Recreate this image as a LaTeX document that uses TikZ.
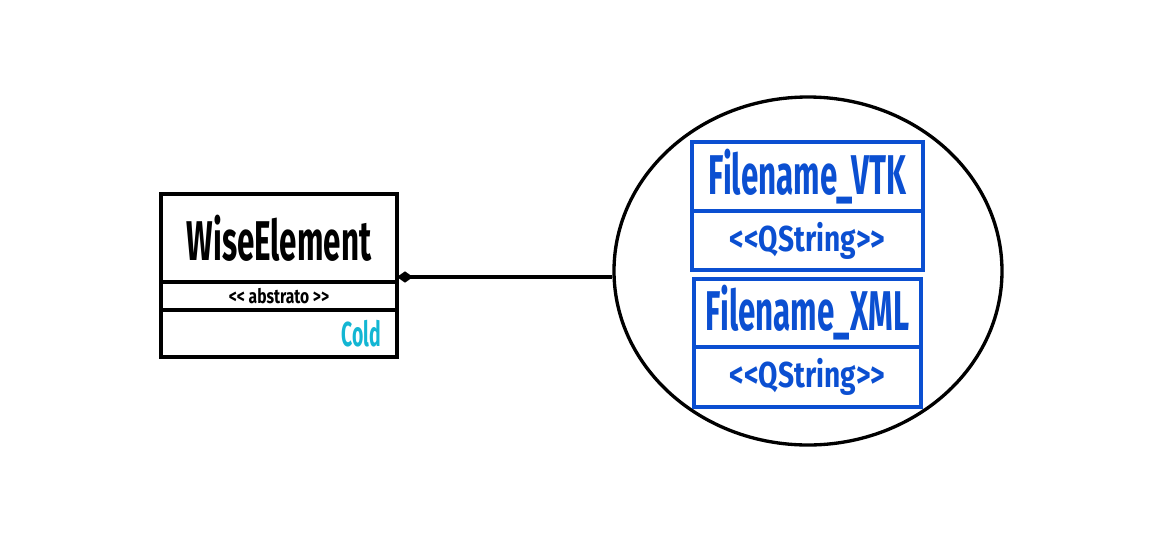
\documentclass[tikz,border=0pt]{standalone}
\usepackage{fontspec}
\usetikzlibrary{arrows.meta, positioning, shapes.geometric}
\newfontfamily\agency{Fira Sans}[FakeStretch=0.56]
\newfontfamily\agencywide{Fira Sans}[FakeStretch=0.78]
\definecolor{UmlBlue}{HTML}{0B4FD1}
\definecolor{UmlCyan}{HTML}{13B6D3}

\tikzset{
    umlpart/.style={draw, line width=2.6pt, rectangle, inner sep=0pt, outer sep=0pt, font=\agency\bfseries},
    bluepart/.style={umlpart, draw=UmlBlue, text=UmlBlue},
}

\begin{document}
\begin{tikzpicture}[x=0.75pt, y=-0.75pt]
\useasboundingbox (0,0) rectangle (1164,540);

% classe abstrata
\node[umlpart, minimum width=177pt, minimum height=66pt, font=\agency\bfseries\fontsize{42}{42}\selectfont]
    (wisename) at (279,238) {WiseElement};
\node[umlpart, minimum width=177pt, minimum height=21pt, anchor=north, font=\agencywide\bfseries\fontsize{15}{15}\selectfont]
    (wisestereo) at (wisename.south) {<< abstrato >>};
\node[umlpart, minimum width=177pt, minimum height=35.25pt, anchor=north]
    (wiseattr) at (wisestereo.south) {};
\node[anchor=east, text=UmlCyan, font=\agency\bfseries\fontsize{26}{26}\selectfont, inner sep=0pt]
    (cold) at ([xshift=-12pt]wiseattr.east) {Cold};

% atributos
\node[draw, line width=2.5pt, ellipse, minimum width=291pt, minimum height=261pt] (attrs) at (808,271) {};

\node[bluepart, minimum width=173.25pt, minimum height=51.75pt, font=\agency\bfseries\fontsize{42}{42}\selectfont]
    (vtkname) at (807.5,176.5) {Filename\_VTK};
\node[bluepart, minimum width=173.25pt, minimum height=44.25pt, anchor=north, font=\agencywide\bfseries\fontsize{27}{27}\selectfont]
    (vtktype) at (vtkname.south) {<{}<QString>{}>};
\node[bluepart, minimum width=170.25pt, minimum height=51pt, font=\agency\bfseries\fontsize{42}{42}\selectfont]
    (xmlname) at (807.5,313) {Filename\_XML};
\node[bluepart, minimum width=170.25pt, minimum height=45pt, anchor=north, font=\agencywide\bfseries\fontsize{27}{27}\selectfont]
    (xmltype) at (xmlname.south) {<{}<QString>{}>};

% agregacao
\coordinate (aggr) at ([yshift=3.75pt]wisename.south east);
\draw[{Diamond[length=12pt, width=8.5pt]}-, line width=2.6pt] (aggr) -- (aggr -| attrs.west);

\end{tikzpicture}
\end{document}
